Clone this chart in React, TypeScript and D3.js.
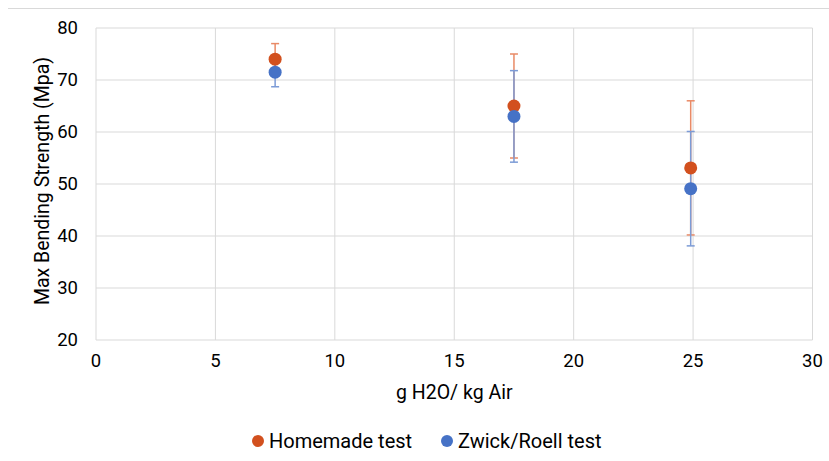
import React from "react";
import * as d3 from "d3";

const xValues = [7.5, 17.5, 24.9];
const homemade = [74, 65, 53.1];
const homemadeErr = [3, 10, 12.9];
const zwick = [71.5, 63, 49.1];
const zwickErr = [2.8, 8.8, 11];
const xTicks = [0, 5, 10, 15, 20, 25, 30];
const yTicks = [20, 30, 40, 50, 60, 70, 80];

const W = 829;
const H = 461;
const font = "Roboto, 'Noto Sans', sans-serif";
const orange = "#D2501E";
const blue = "#4672C6";

const series = [
  { name: "Homemade test", values: homemade, errs: homemadeErr, color: orange, barColor: "#E98A66" },
  { name: "Zwick/Roell test", values: zwick, errs: zwickErr, color: blue, barColor: "#7C9BD6" },
];

export default function App() {
  const x = d3.scaleLinear().domain([0, 30]).range([96, 812.5]);
  const y = d3.scaleLinear().domain([20, 80]).range([340, 28]);

  return (
    <svg width={W} height={H} style={{ position: "absolute", left: 0, top: 0, background: "#fff" }}>
      <line x1={8} x2={W} y1={8.5} y2={8.5} stroke="#d9d9d9" />
      {/* grid */}
      {yTicks.map((t) => (
        <line key={"gy" + t} x1={x(0)} x2={x(30)} y1={y(t)} y2={y(t)} stroke="#d9d9d9" strokeWidth={1} />
      ))}
      {xTicks.map((t) => (
        <line key={"gx" + t} x1={x(t)} x2={x(t)} y1={y(20)} y2={y(80)} stroke="#d9d9d9" strokeWidth={1} />
      ))}
      {/* tick labels */}
      {yTicks.map((t) => (
        <text key={"ty" + t} x={78} y={y(t)} dy="0.35em" textAnchor="end" fontFamily={font} fontSize={18.5} fill="#000">
          {t}
        </text>
      ))}
      {xTicks.map((t) => (
        <text key={"tx" + t} x={x(t)} y={367} textAnchor="middle" fontFamily={font} fontSize={18.5} fill="#000">
          {t}
        </text>
      ))}
      {/* axis titles */}
      <text
        transform={`translate(49,181) rotate(-90)`}
        textAnchor="middle"
        fontFamily={font}
        fontSize={19.5}
        fill="#000"
      >
        Max Bending Strength (Mpa)
      </text>
      <text x={(x(0) + x(30)) / 2} y={399} textAnchor="middle" fontFamily={font} fontSize={19.5} fill="#000">
        g H2O/ kg Air
      </text>
      {/* error bars */}
      {series.map((s) =>
        xValues.map((xv, i) => {
          const cx = x(xv);
          const top = y(s.values[i] + s.errs[i]);
          const bot = y(s.values[i] - s.errs[i]);
          return (
            <g key={s.name + "e" + i} stroke={s.barColor} strokeWidth={1.5}>
              <line x1={cx} x2={cx} y1={top} y2={bot} />
              <line x1={cx - 4} x2={cx + 4} y1={top} y2={top} />
              <line x1={cx - 4} x2={cx + 4} y1={bot} y2={bot} />
            </g>
          );
        })
      )}
      {/* points */}
      {series.map((s) =>
        xValues.map((xv, i) => (
          <circle key={s.name + "p" + i} cx={x(xv)} cy={y(s.values[i])} r={6.5} fill={s.color} />
        ))
      )}
      {/* legend */}
      <g fontFamily={font} fontSize={20} fill="#000">
        <circle cx={258} cy={441} r={6} fill={orange} />
        <text x={269} y={441} dy="0.35em">Homemade test</text>
        <circle cx={447} cy={441} r={6} fill={blue} />
        <text x={458} y={441} dy="0.35em">Zwick/Roell test</text>
      </g>
    </svg>
  );
}
